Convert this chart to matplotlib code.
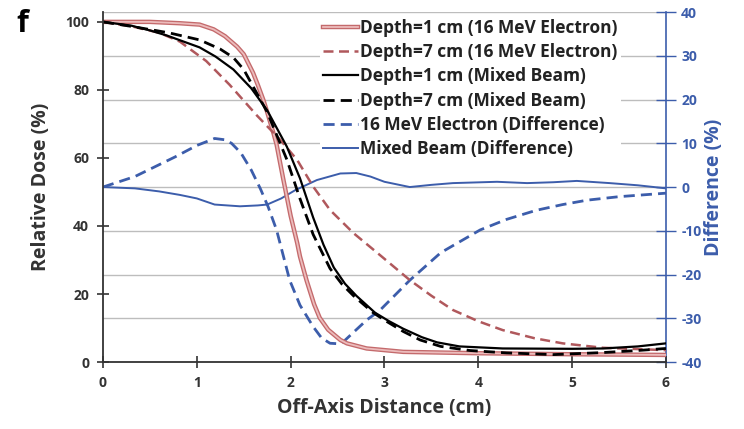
import numpy as np
import matplotlib.pyplot as plt
import matplotlib.patheffects as pe

plt.rcParams['font.family'] = ['Open Sans', 'DejaVu Sans']
plt.rcParams['axes.unicode_minus'] = False

# relative dose profiles (%)
x_e1 = [0, 0.5, 0.82, 1.03, 1.18, 1.3, 1.43, 1.5, 1.6, 1.65, 1.71, 1.75, 1.82, 1.85, 1.92, 2.0,
        2.07, 2.1, 2.17, 2.25, 2.31, 2.4, 2.53, 2.6, 2.81, 3.2, 4, 5, 6]
dose_e1 = [100, 100, 99.6, 99.2, 97.8, 95.8, 92.7, 90.5, 85, 81.5, 77, 73.5, 67, 64, 54, 43,
           35, 31, 24, 17, 13, 9.5, 6.5, 5.5, 4, 3, 2.6, 2.3, 2.1]

x_e7 = [0, 0.32, 0.6, 0.82, 1.1, 1.35, 1.64, 1.89, 2.07, 2.24, 2.42, 2.67, 2.95, 3.27, 3.5, 3.73,
        4.0, 4.26, 4.6, 4.9, 5.33, 6]
dose_e7 = [100, 98.6, 96.8, 94.2, 88.5, 81.5, 72.5, 65.3, 59.4, 51.6, 44.7, 37.9, 31.5, 24.1, 19.5,
           15.3, 12, 9.4, 7, 5.5, 4.2, 3.5]

x_m1 = [0, 0.3, 0.5, 0.68, 1.03, 1.2, 1.39, 1.58, 1.75, 1.96, 2.1, 2.24, 2.35, 2.46, 2.58, 2.7, 2.9,
        3.05, 3.2, 3.4, 3.56, 3.8, 4.26, 5.0, 5.33, 5.7, 6]
dose_m1 = [100, 98.9, 97.5, 96, 92.5, 89.8, 86, 80.5, 74, 63.3, 54, 42.5, 34.5, 27.8, 23, 19.5, 14.5,
           12, 9.8, 7.3, 5.8, 4.6, 4, 3.9, 4, 4.6, 5.5]

x_m7 = [0, 0.32, 0.7, 1.03, 1.25, 1.39, 1.5, 1.6, 1.75, 1.96, 2.1, 2.24, 2.42, 2.55, 2.67, 2.88, 3.02,
        3.2, 3.38, 3.6, 3.91, 4.3, 4.8, 5.33, 5.7, 6]
dose_m7 = [100, 98.6, 96.8, 94.7, 92, 89.5, 86, 81, 73.5, 59.5, 48, 37.5, 27.5, 22.8, 19.5, 14.5, 12,
           9, 6.5, 4.6, 3.4, 2.7, 2.2, 2.8, 3.4, 4]

# differences (%), right axis
x_de = [0, 0.34, 0.77, 1.0, 1.19, 1.3, 1.37, 1.47, 1.58, 1.68, 1.76, 1.85, 1.99, 2.1, 2.24, 2.33,
        2.42, 2.5, 2.56, 2.68, 2.81, 2.95, 3.27, 3.6, 4.02, 4.3, 4.62, 4.9, 5.16, 5.5, 6]
diff_e = [0, 2.4, 6.9, 9.5, 11.1, 10.8, 10, 7.8, 3.9, -0.5, -4.5, -9.8, -21.3, -27, -31.9, -34.5,
          -35.7, -35.8, -35.4, -33, -30.4, -28.2, -21.3, -15, -9.8, -7.4, -5.3, -4, -3, -2.2, -1.4]

x_dm = [0, 0.34, 0.6, 0.82, 1.0, 1.19, 1.46, 1.65, 1.75, 1.9, 2.05, 2.28, 2.53, 2.7, 2.85, 3.0, 3.27,
        3.5, 3.73, 4.2, 4.52, 4.8, 5.05, 5.4, 5.7, 6]
diff_m = [0, -0.3, -1.0, -1.8, -2.6, -4.0, -4.4, -4.2, -4.0, -2.6, -0.7, 1.6, 3.1, 3.2, 2.4, 1.2, 0,
          0.5, 0.9, 1.2, 0.9, 1.1, 1.4, 0.9, 0.4, -0.3]

red_light = '#ecbcbc'
red_edge = '#c46a6c'
red_dark = '#b0585c'
blue = '#3c5dab'
txt = '#333333'

fig = plt.figure(figsize=(7.44, 4.29), dpi=100)
ax1 = fig.add_axes([0.1384, 0.156, 0.7567, 0.816])
ax2 = ax1.twinx()

# grid from the right axis, behind everything
ax2.set_ylim(-40, 40)
ax2.set_yticks(np.arange(-40, 41, 10))
ax2.grid(axis='y', color='#bdbdbd', linewidth=1)
ax2.plot(x_de, diff_e, color=blue, linewidth=2, dashes=(4, 2.2))
ax2.plot(x_dm, diff_m, color=blue, linewidth=1.4)

ax1.set_zorder(ax2.get_zorder() + 1)
ax1.patch.set_visible(False)

# double-line look of the 1 cm electron profile
l1, = ax1.plot(x_e1, dose_e1, color=red_light, linewidth=1.3, label='Depth=1 cm (16 MeV Electron)',
               path_effects=[pe.Stroke(linewidth=3.2, foreground=red_edge), pe.Normal()])
l2, = ax1.plot(x_e7, dose_e7, color=red_dark, linewidth=1.8, dashes=(4, 2.2), label='Depth=7 cm (16 MeV Electron)')
l3, = ax1.plot(x_m1, dose_m1, color='black', linewidth=1.6, label='Depth=1 cm (Mixed Beam)')
l4, = ax1.plot(x_m7, dose_m7, color='black', linewidth=2, dashes=(4, 2.2), label='Depth=7 cm (Mixed Beam)')
# proxies for the right-axis lines in the legend
l5, = ax1.plot([], [], color=blue, linewidth=2, dashes=(4, 2.2), label='16 MeV Electron (Difference)')
l6, = ax1.plot([], [], color=blue, linewidth=1.4, label='Mixed Beam (Difference)')

ax1.set_xlim(0, 6)
ax1.set_ylim(0, 102.9)
ax1.set_xticks(range(7))
ax1.set_yticks(range(0, 101, 20))

for s in ['top', 'right']:
    ax1.spines[s].set_visible(False)
for s in ['top', 'left', 'bottom']:
    ax2.spines[s].set_visible(False)
ax1.spines['left'].set_color(txt)
ax1.spines['bottom'].set_color(txt)
ax1.spines['left'].set_linewidth(1.3)
ax1.spines['bottom'].set_linewidth(1.3)
ax2.spines['right'].set_color(blue)
ax2.spines['right'].set_linewidth(1.2)

ax1.tick_params(axis='both', direction='inout', length=8, width=1.2, color=txt,
                labelsize=10, labelcolor=txt, pad=6)
ax2.tick_params(axis='y', direction='inout', length=14, width=1, color=blue,
                labelsize=10, labelcolor=blue, pad=4)
for lab in ax1.get_xticklabels() + ax1.get_yticklabels() + ax2.get_yticklabels():
    lab.set_fontweight('bold')

ax1.set_xlabel('Off-Axis Distance (cm)', fontsize=14, fontweight='bold', color=txt, labelpad=6)
ax1.set_ylabel('Relative Dose (%)', fontsize=14, fontweight='bold', color=txt, labelpad=10)
ax2.set_ylabel('Difference (%)', fontsize=14, fontweight='bold', color=blue, labelpad=2)

leg = ax1.legend(handles=[l1, l2, l3, l4, l5, l6], loc='upper left',
                 bbox_to_anchor=(0.37, 1.015), frameon=True, facecolor='white',
                 edgecolor='none', framealpha=1, fontsize=12.5, handlelength=2.0,
                 handletextpad=0.1, labelspacing=0.36, borderpad=0.2)
for t in leg.get_texts():
    t.set_fontweight('bold')
    t.set_color('#222222')

fig.text(0.03, 0.945, 'f', fontsize=22, fontweight='bold', ha='center', va='center')

fig.savefig('out.png', dpi=100)
